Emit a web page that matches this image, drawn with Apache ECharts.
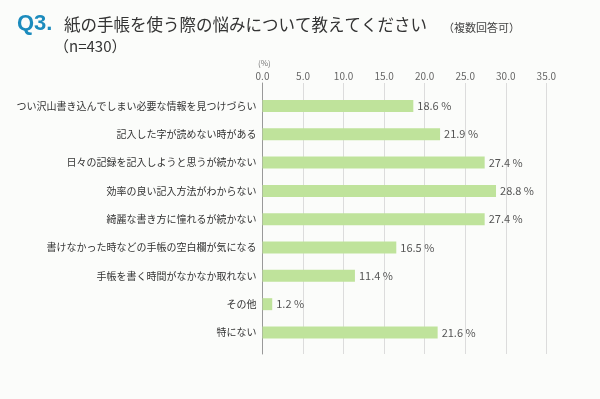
<!DOCTYPE html>
<html>
<head>
<meta charset="utf-8">
<script src="https://cdn.jsdelivr.net/npm/echarts@6/dist/echarts.min.js"></script>
<style>
html,body{margin:0;padding:0;background:#fbfcfa;}
#c{width:600px;height:399px;}
</style>
</head>
<body>
<div id="c"></div>
<script>
const categories = [
  'つい沢山書き込んでしまい必要な情報を見つけづらい',
  '記入した字が読めない時がある',
  '日々の記録を記入しようと思うが続かない',
  '効率の良い記入方法がわからない',
  '綺麗な書き方に憧れるが続かない',
  '書けなかった時などの手帳の空白欄が気になる',
  '手帳を書く時間がなかなか取れない',
  'その他',
  '特にない'
];
const values = [18.6, 21.9, 27.4, 28.8, 27.4, 16.5, 11.4, 1.2, 21.6];
const tickLabels = ['0.0', '5.0', '10.0', '15.0', '20.0', '25.0', '30.0', '35.0'];

const FONT = '"Noto Sans CJK JP", "Noto Sans", sans-serif';
const chart = echarts.init(document.getElementById('c'), null, {renderer: 'canvas'});
const L = 262.5, R = 53.7;
chart.setOption({
  backgroundColor: '#fbfcfa',
  animation: false,
  textStyle: {fontFamily: FONT},
  graphic: [
    {type: 'text', left: 17, top: 13, style: {text: 'Q3.', fontSize: 22, fontWeight: 'bold', fill: '#1b8bbd', fontFamily: 'Arial, "Liberation Sans", sans-serif'}},
    {type: 'text', left: 64, top: 16, style: {text: '紙の手帳を使う際の悩みについて教えてください', fontSize: 16.5, fill: '#333', fontFamily: FONT}},
    {type: 'text', left: 443, top: 22, style: {text: '（複数回答可）', fontSize: 11, fill: '#444', fontFamily: FONT}},
    {type: 'text', left: 54, top: 39, style: {text: '（n=430）', fontSize: 15, fill: '#333', fontFamily: FONT}},
    {type: 'text', left: 258, top: 59, style: {text: '(%)', fontSize: 8, fill: '#777', fontFamily: FONT}}
  ],
  grid: [
    {left: L, right: R, top: 83, height: 271, containLabel: false, outerBoundsMode: 'none'},
    {left: L, right: R, top: 91.84, height: 254.8, containLabel: false, outerBoundsMode: 'none'}
  ],
  xAxis: [
    {
      gridIndex: 0, type: 'value', position: 'top', min: 0, max: 35, interval: 5,
      axisLine: {show: false}, axisTick: {show: false},
      axisLabel: {
        margin: 2, fontSize: 10, color: '#666', fontFamily: FONT,
        formatter: function (v) { return tickLabels[Math.round(v / 5)]; }
      },
      splitLine: {show: true, lineStyle: {color: '#dcdcdc', width: 1}}
    },
    {
      gridIndex: 1, type: 'value', min: 0, max: 35, interval: 5, show: false
    }
  ],
  yAxis: [
    {
      gridIndex: 0, type: 'category', data: [''],
      axisLine: {show: true, lineStyle: {color: '#999', width: 1}},
      axisTick: {show: false}, axisLabel: {show: false}, splitLine: {show: false}
    },
    {
      gridIndex: 1, type: 'category', data: categories, inverse: true,
      axisLine: {show: false}, axisTick: {show: false},
      axisLabel: {margin: 6, fontSize: 10, color: '#333', fontFamily: FONT}
    }
  ],
  series: [{
    type: 'bar', xAxisIndex: 1, yAxisIndex: 1,
    data: values, barWidth: 12,
    itemStyle: {color: '#bfe39b'},
    label: {
      show: true, position: 'right', distance: 4,
      fontSize: 11, color: '#555', fontFamily: FONT,
      formatter: function (p) { return p.value.toFixed(1) + ' %'; }
    }
  }]
});
</script>
</body>
</html>
